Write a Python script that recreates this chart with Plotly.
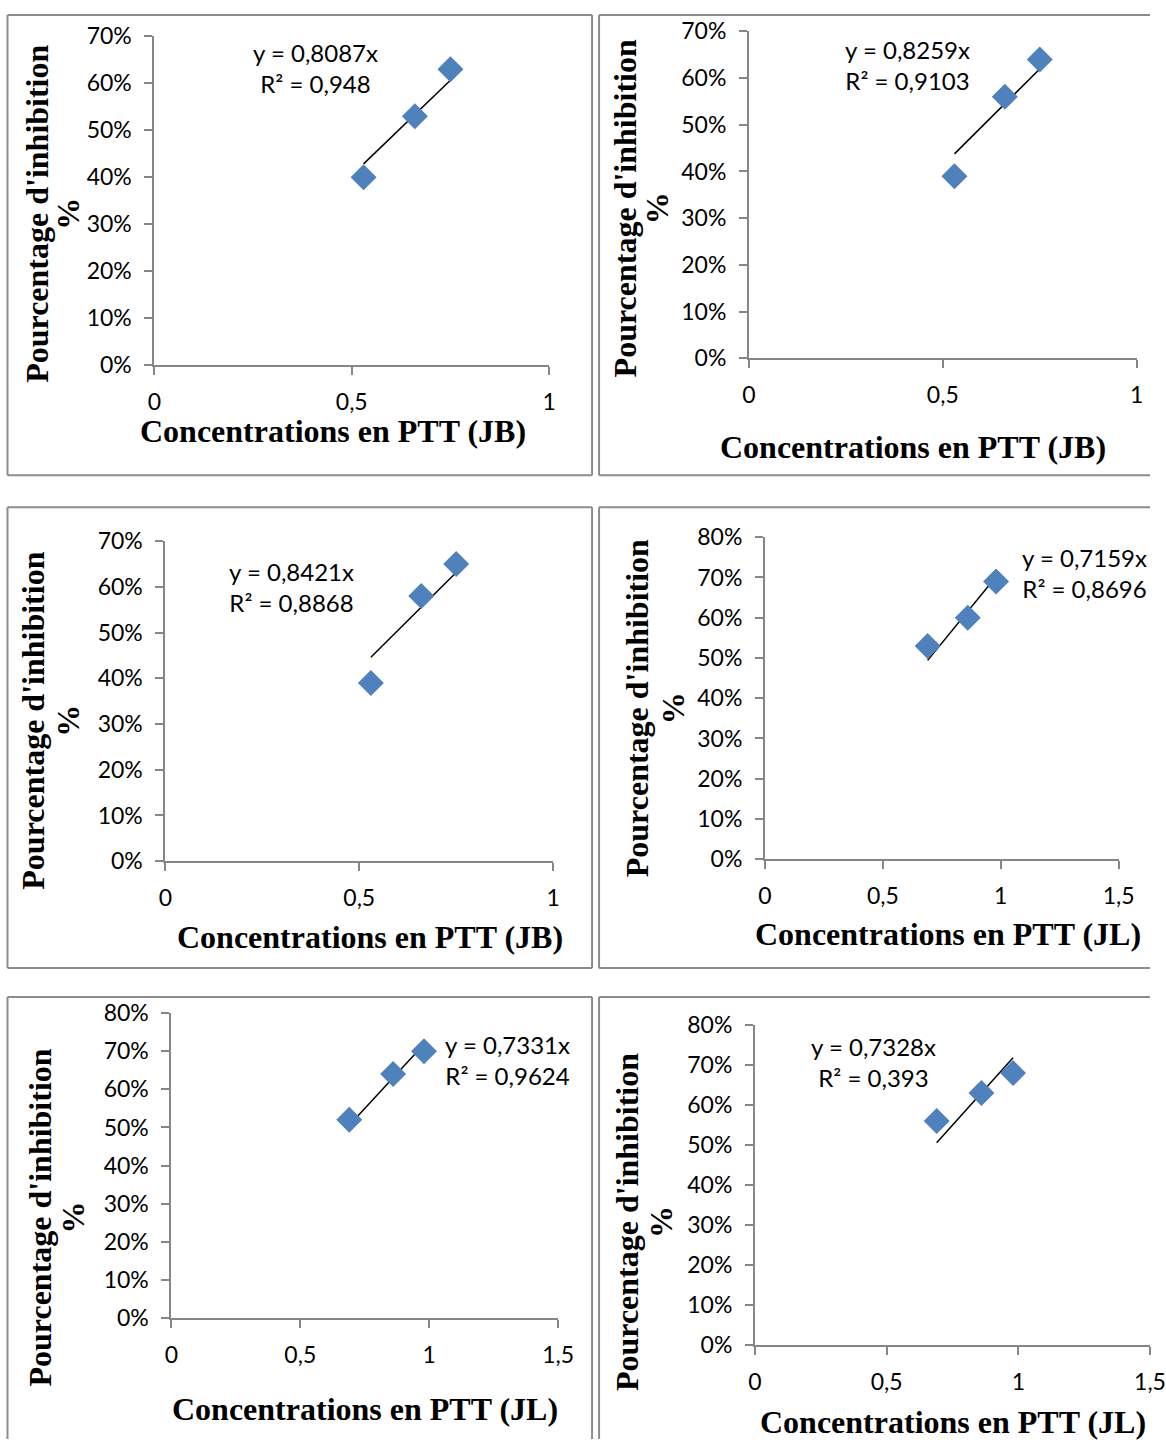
import plotly.graph_objects as go

W, H = 1166, 1452

# ---- data ----
conc_jb = [0.53, 0.66, 0.75]
conc_jl = [0.69, 0.86, 0.98]
inhib_1 = [0.40, 0.53, 0.63]
inhib_2 = [0.39, 0.56, 0.64]
inhib_3 = [0.39, 0.58, 0.65]
inhib_4 = [0.53, 0.60, 0.69]
inhib_5 = [0.52, 0.64, 0.70]
inhib_6 = [0.56, 0.63, 0.68]
eq_labels = ["y = 0,8087x", "y = 0,8259x", "y = 0,8421x", "y = 0,7159x", "y = 0,7331x", "y = 0,7328x"]
r2_labels = ["R² = 0,948", "R² = 0,9103", "R² = 0,8868", "R² = 0,8696", "R² = 0,9624", "R² = 0,393"]
x_titles = ["Concentrations en PTT (JB)"] * 3 + ["Concentrations en PTT (JL)"] * 3
y_title_line1 = "Pourcentage d'inhibition"
y_title_line2 = "%"
x_ticks_jb = [0, 0.5, 1]
x_ticklabels_jb = ["0", "0,5", "1"]
x_ticks_jl = [0, 0.5, 1, 1.5]
x_ticklabels_jl = ["0", "0,5", "1", "1,5"]
y_ticks_70 = [0, 0.1, 0.2, 0.3, 0.4, 0.5, 0.6, 0.7]
y_ticks_80 = [0, 0.1, 0.2, 0.3, 0.4, 0.5, 0.6, 0.7, 0.8]

series = [
    (conc_jb, inhib_1), (conc_jb, inhib_2), (conc_jb, inhib_3),
    (conc_jl, inhib_4), (conc_jl, inhib_5), (conc_jl, inhib_6),
]

# ---- layout geometry (target pixels in the photographed picture) ----
plot_px = [
    (154, 549, 365, 36, 1.0, 0.7),
    (749, 1137, 358, 31, 1.0, 0.7),
    (165, 553, 861, 541, 1.0, 0.7),
    (765, 1119, 859, 537, 1.5, 0.8),
    (171, 558, 1318, 1013, 1.5, 0.8),
    (755, 1152, 1345, 1025, 1.5, 0.8),
]
# frame sides: left, top, right, bottom (None = cut off)
boxes = [
    (7, 7, 592, 475), (599, 7, None, 475),
    (7, 507, 592, 968), (599, 507, None, 968),
    (7, 997, 592, None), (599, 997, None, None),
]
xtitle_pos = [(333, 431), (913, 447), (370, 937), (948, 934), (365, 1409), (953, 1422)]
# (x of main line, x of "%", y centre)
ytitle_pos = [(37, 68, 213), (625, 657, 208), (33, 68, 720), (637, 673, 708),
              (40, 73, 1217), (627, 661, 1222)]
eq_pos = [(315, 68), (908, 65), (291, 587), (1085, 573), (507, 1060), (874, 1062)]

# the photographed page is slightly scaled/offset; compensate
S, OX, OY = 0.981, 6.5, 14.6

def px2x(p):
    v = ((p - OX) / S) / W
    return min(max(v, 0.0), 1.0)

def px2y(p):
    v = 1 - ((p - OY) / S) / H
    return min(max(v, 0.0), 1.0)

fig = go.Figure()

tick_font = dict(family="Lato, Carlito, Calibri, sans-serif", size=23, color="#000000")
axis_gray = "#868686"

for i, ((xs, ys), (x0, x1, yb, yt, xmax, ymax)) in enumerate(zip(series, plot_px)):
    n = i + 1
    xa = "x" if n == 1 else f"x{n}"
    ya = "y" if n == 1 else f"y{n}"
    b = sum(a * c for a, c in zip(xs, ys)) / sum(a * a for a in xs)
    tx = [min(xs), max(xs)]
    fig.add_trace(go.Scatter(x=tx, y=[b * v for v in tx], mode="lines",
                             line=dict(color="black", width=1.5),
                             xaxis=xa, yaxis=ya, showlegend=False, hoverinfo="skip"))
    fig.add_trace(go.Scatter(x=xs, y=ys, mode="markers",
                             marker=dict(symbol="diamond", size=20, color="#4F81BD",
                                         line=dict(width=0)),
                             xaxis=xa, yaxis=ya, showlegend=False))
    jl = xmax > 1
    xtv = x_ticks_jl if jl else x_ticks_jb
    xtt = x_ticklabels_jl if jl else x_ticklabels_jb
    ytv = y_ticks_80 if ymax > 0.7 else y_ticks_70
    ytt = [f"{round(v * 100)}%" for v in ytv]
    xkey = "xaxis" if n == 1 else f"xaxis{n}"
    ykey = "yaxis" if n == 1 else f"yaxis{n}"
    fig.layout[xkey] = dict(
        domain=[px2x(x0), px2x(x1)], range=[0, xmax], anchor=ya,
        showgrid=False, zeroline=False, showline=True, linecolor=axis_gray, linewidth=2,
        ticks="outside", ticklen=8, tickwidth=2, tickcolor=axis_gray,
        tickvals=xtv, ticktext=xtt, tickfont=tick_font, ticklabelstandoff=7,
        fixedrange=True,
    )
    fig.layout[ykey] = dict(
        domain=[px2y(yb), px2y(yt)], range=[0, ymax], anchor=xa,
        showgrid=False, zeroline=False, showline=True, linecolor=axis_gray, linewidth=2,
        ticks="outside", ticklen=8, tickwidth=2, tickcolor=axis_gray,
        tickvals=ytv, ticktext=ytt, tickfont=tick_font, ticklabelstandoff=8,
        fixedrange=True,
    )

title_font = dict(family="Liberation Serif, Times New Roman, serif", size=32, color="#000000")
annotations = []
shapes = []
frame_line = dict(color="#8c8c8c", width=2)
for i in range(6):
    l, t, r, bt = boxes[i]
    rr = r if r is not None else 1200
    bb = bt if bt is not None else 1500
    shapes.append(dict(type="line", xref="paper", yref="paper",
                       x0=px2x(l), x1=px2x(l), y0=px2y(bb), y1=px2y(t), line=frame_line))
    shapes.append(dict(type="line", xref="paper", yref="paper",
                       x0=px2x(l), x1=px2x(rr), y0=px2y(t), y1=px2y(t), line=frame_line))
    if r is not None:
        shapes.append(dict(type="line", xref="paper", yref="paper",
                           x0=px2x(r), x1=px2x(r), y0=px2y(bb), y1=px2y(t), line=frame_line))
    if bt is not None:
        shapes.append(dict(type="line", xref="paper", yref="paper",
                           x0=px2x(l), x1=px2x(rr), y0=px2y(bt), y1=px2y(bt), line=frame_line))
    cx, cy = xtitle_pos[i]
    annotations.append(dict(text=f"<b>{x_titles[i]}</b>", x=px2x(cx), y=px2y(cy),
                            xref="paper", yref="paper", showarrow=False,
                            xanchor="center", yanchor="middle", font=title_font))
    mx, px_, cy = ytitle_pos[i]
    annotations.append(dict(text=f"<b>{y_title_line1}</b>", x=px2x(mx), y=px2y(cy),
                            xref="paper", yref="paper", showarrow=False, textangle=-90,
                            xanchor="center", yanchor="middle", font=title_font))
    annotations.append(dict(text=f"<b>{y_title_line2}</b>", x=px2x(px_), y=px2y(cy),
                            xref="paper", yref="paper", showarrow=False, textangle=-90,
                            xanchor="center", yanchor="middle", font=title_font))
    cx, cy = eq_pos[i]
    annotations.append(dict(text=f"{eq_labels[i]}<br>{r2_labels[i]}", x=px2x(cx), y=px2y(cy),
                            xref="paper", yref="paper", showarrow=False,
                            xanchor="center", yanchor="middle", align="center",
                            font=dict(family="Lato, Carlito, Calibri, sans-serif", size=24,
                                      color="#000000")))

fig.update_layout(width=W, height=H, margin=dict(l=0, r=0, t=0, b=0),
                  paper_bgcolor="white", plot_bgcolor="white",
                  annotations=annotations, shapes=shapes, showlegend=False)

post = (
    "document.body.style.margin='0';document.body.style.padding='0';"
    "document.body.style.overflow='hidden';"
)
fig.write_html("out.html", config={"displayModeBar": False}, post_script=post)
